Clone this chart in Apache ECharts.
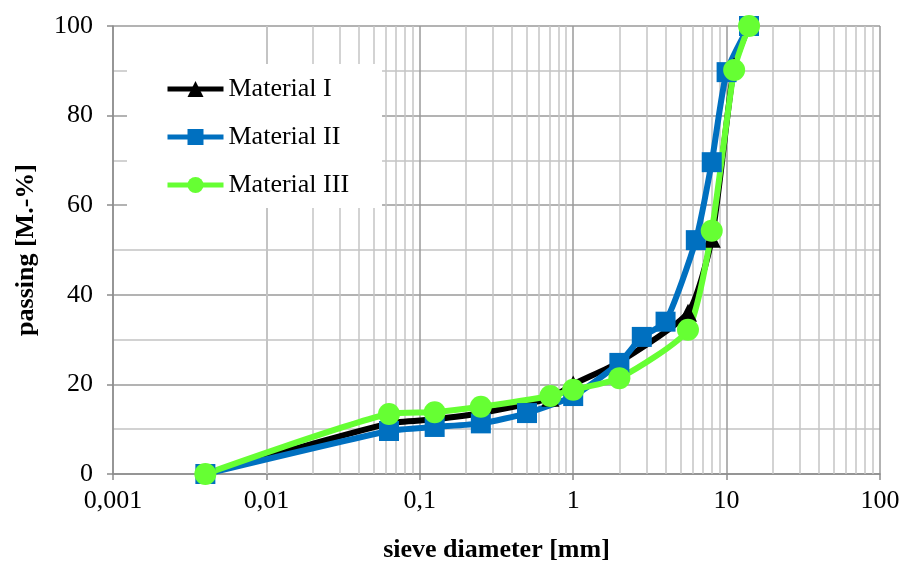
<!DOCTYPE html>
<html>
<head>
<meta charset="utf-8">
<script src="https://cdn.jsdelivr.net/npm/echarts@6/dist/echarts.min.js"></script>
<style>
html,body{margin:0;padding:0;background:#fff;}
#chart{width:903px;height:561px;}
</style>
</head>
<body>
<div id="chart"></div>
<script>
// ---- data ----
var seriesNames = ['Material I', 'Material II', 'Material III'];

var sieveI   = [0.004, 0.063, 0.125, 0.25, 0.71, 1, 2, 5.6, 8, 11.2, 14];
var passingI = [0, 11.3, 12.2, 13.6, 17, 20, 25, 36, 52.5, 91, 100];

var sieveII   = [0.004, 0.063, 0.125, 0.25, 0.5, 1, 2, 2.8, 4, 6.3, 8, 10, 14];
var passingII = [0, 9.6, 10.5, 11.3, 13.6, 17.4, 24.8, 30.6, 34, 52.2, 69.6, 89.7, 100];

var sieveIII   = [0.004, 0.063, 0.125, 0.25, 0.71, 1, 2, 5.6, 8, 11.2, 14];
var passingIII = [0, 13.4, 13.8, 15, 17.4, 18.8, 21.4, 32.2, 54.3, 90.2, 100];

var xTickValues = [0.001, 0.01, 0.1, 1, 10, 100];
var xTickLabels = ['0,001', '0,01', '0,1', '1', '10', '100'];

// minor log grid values (2..9 in each decade)
var minorGridValues = [];
for (var d = 0; d < xTickValues.length - 1; d++) {
  for (var k = 2; k <= 9; k++) minorGridValues.push(k * xTickValues[d]);
}

function pairs(xs, ys) { return xs.map(function (x, i) { return [x, ys[i]]; }); }

var FONT = 'Liberation Serif';
var LINE_W = 6;
var SMOOTH = 0.2;
var chart = echarts.init(document.getElementById('chart'), null, {renderer: 'canvas'});

var option = {
  backgroundColor: '#ffffff',
  animation: false,
  grid: {left: 113, right: 23, top: 26, bottom: 87, containLabel: false, outerBoundsMode: 'none'},
  legend: {
    orient: 'vertical',
    left: 127,
    top: 64,
    padding: [12, 33, 10, 38],
    backgroundColor: '#ffffff',
    itemWidth: 56,
    itemHeight: 20,
    itemGap: 22,
    data: seriesNames,
    lineStyle: {width: 5},
    textStyle: {fontFamily: FONT, fontSize: 26, color: '#000'}
  },
  xAxis: {
    type: 'log',
    logBase: 10,
    min: 0.001,
    max: 100,
    name: 'sieve diameter [mm]',
    nameLocation: 'middle',
    nameGap: 63,
    nameTextStyle: {fontFamily: FONT, fontSize: 26, fontWeight: 'bold', color: '#000'},
    axisLine: {show: true, lineStyle: {color: '#8c8c8c', width: 1.5}},
    axisTick: {show: true, inside: false, length: 6, lineStyle: {color: '#8c8c8c', width: 1.5}},
    axisLabel: {
      margin: 14,
      fontFamily: FONT, fontSize: 26, color: '#000',
      formatter: function (v) {
        var i = Math.round(Math.log10(v)) + 3;
        return xTickLabels[i] !== undefined ? xTickLabels[i] : '';
      }
    },
    splitLine: {show: true, lineStyle: {color: '#9a9a9a', width: 1.5}}
  },
  yAxis: {
    type: 'value',
    min: 0,
    max: 100,
    interval: 20,
    name: 'passing [M.-%]',
    nameLocation: 'middle',
    nameGap: 74,
    nameTextStyle: {fontFamily: FONT, fontSize: 26, fontWeight: 'bold', color: '#000'},
    axisLine: {show: true, lineStyle: {color: '#8c8c8c', width: 1.5}},
    axisTick: {show: true, inside: false, length: 6, lineStyle: {color: '#8c8c8c', width: 1.5}},
    axisLabel: {margin: 20, fontFamily: FONT, fontSize: 26, color: '#000'},
    splitLine: {show: true, lineStyle: {color: '#9a9a9a', width: 1.5}},
    minorTick: {show: false, splitNumber: 2},
    minorSplitLine: {show: true, lineStyle: {color: '#c4c4c4', width: 1.5}}
  },
  series: [
    {
      name: seriesNames[0],
      type: 'line',
      data: pairs(sieveI, passingI),
      smooth: SMOOTH,
      symbol: 'triangle',
      symbolSize: 18,
      lineStyle: {color: '#000000', width: LINE_W},
      itemStyle: {color: '#000000'},
      markLine: {
        silent: true,
        z: 1,
        symbol: ['none', 'none'],
        label: {show: false},
        emphasis: {disabled: true},
        lineStyle: {color: '#c4c4c4', width: 1.5, type: 'solid'},
        data: minorGridValues.map(function (v) { return {xAxis: v}; })
      }
    },
    {
      name: seriesNames[1],
      type: 'line',
      data: pairs(sieveII, passingII),
      smooth: SMOOTH,
      symbol: 'rect',
      symbolSize: 20,
      lineStyle: {color: '#0070C0', width: LINE_W},
      itemStyle: {color: '#0070C0'}
    },
    {
      name: seriesNames[2],
      type: 'line',
      data: pairs(sieveIII, passingIII),
      smooth: SMOOTH,
      symbol: 'circle',
      symbolSize: 22,
      lineStyle: {color: '#66FF33', width: LINE_W},
      itemStyle: {color: '#66FF33'}
    }
  ]
};
chart.setOption(option);
</script>
</body>
</html>
